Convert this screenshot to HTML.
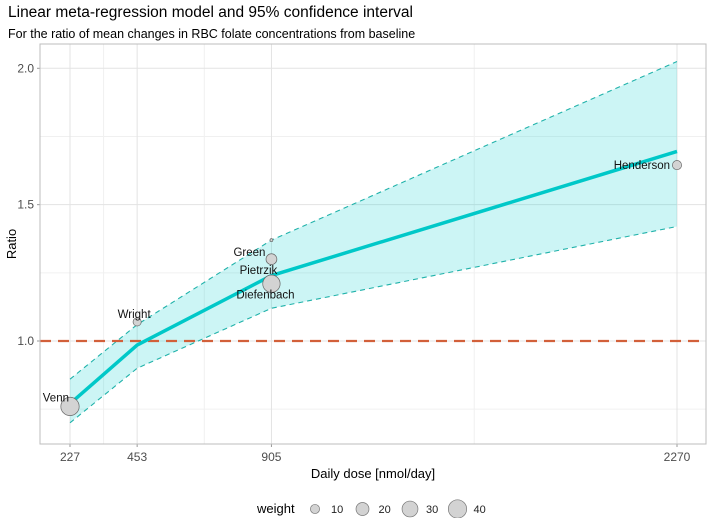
<!DOCTYPE html>
<html><head><meta charset="utf-8"><style>
body{margin:0;background:#fff;}
svg{display:block;font-family:"Liberation Sans",sans-serif;}
</style></head><body>
<svg id="c" width="709" height="518">
<text x="8" y="17" font-size="15.5" fill="#000">Linear meta-regression model and 95% confidence interval</text>
<text x="8" y="38" font-size="12.5" fill="#000">For the ratio of mean changes in RBC folate concentrations from baseline</text>
<g id="plot"></g>
</svg>
<script>
const doses=[227,453,905,2270];
const fit=[0.77,0.985,1.24,1.695];
const upper=[0.86,1.06,1.37,2.025];
const lower=[0.70,0.90,1.12,1.42];
const studyNames=["Venn","Wright","Green","Pietrzik","Diefenbach","Henderson"];
const studyDose=[227,453,905,905,905,2270];
const studyRatio=[0.76,1.07,1.37,1.30,1.21,1.645];
const studyWeight=[40,8,1,14,36,10];
const yTicks=[1.0,1.5,2.0];
const yLabels=["1.0","1.5","2.0"];
const legendWeights=[10,20,30,40];

const L=40,R=706,T=44,B=444;
const X=d=>70+(d-227)*(607/2043);
const Y=v=>341-(v-1)*272.7;
const rad=w=>Math.sqrt(w)*1.45;
const ns="http://www.w3.org/2000/svg";
const g=document.getElementById('plot');
function mk(t,a,p){const e=document.createElementNS(ns,t);for(const k in a)e.setAttribute(k,a[k]);(p||g).appendChild(e);return e;}
let e=mk('rect',{x:L,y:T,width:R-L,height:B-T,fill:'#fff'});


[0.75,1.25,1.75].forEach(v=>{mk('line',{x1:L,x2:R,y1:Y(v),y2:Y(v),stroke:'#f0f0f0','stroke-width':1});});
for(let i=0;i<doses.length-1;i++){const m=(doses[i]+doses[i+1])/2;mk('line',{x1:X(m),x2:X(m),y1:T,y2:B,stroke:'#f0f0f0','stroke-width':1});}
yTicks.forEach((v,i)=>{mk('line',{x1:L,x2:R,y1:Y(v),y2:Y(v),stroke:'#e3e3e3','stroke-width':1});
 const t=mk('text',{x:L-6,y:Y(v)+4,'font-size':12,fill:'#4d4d4d','text-anchor':'end'});t.textContent=yLabels[i];
 
 
 mk('line',{x1:L-3,x2:L,y1:Y(v),y2:Y(v),stroke:'#999'});});
doses.forEach(d=>{mk('line',{x1:X(d),x2:X(d),y1:T,y2:B,stroke:'#e3e3e3','stroke-width':1});
 mk('line',{x1:X(d),x2:X(d),y1:B,y2:B+3,stroke:'#999'});
 const t=mk('text',{x:X(d),y:B+17,'font-size':12,fill:'#4d4d4d','text-anchor':'middle'});t.textContent=d;
 
 });
let pts=doses.map((d,i)=>X(d)+','+Y(upper[i])).concat(doses.map((d,i)=>X(d)+','+Y(lower[i])).reverse());
e=mk('polygon',{points:pts.join(' '),fill:'#00cdcd','fill-opacity':0.2});


e=mk('polyline',{points:doses.map((d,i)=>X(d)+','+Y(upper[i])).join(' '),fill:'none',stroke:'#20b2aa','stroke-width':1.1,'stroke-dasharray':'5,4'});


e=mk('polyline',{points:doses.map((d,i)=>X(d)+','+Y(lower[i])).join(' '),fill:'none',stroke:'#20b2aa','stroke-width':1.1,'stroke-dasharray':'5,4'});


e=mk('line',{x1:L,x2:R,y1:Y(1),y2:Y(1),stroke:'#d2603a','stroke-width':2.2,'stroke-dasharray':'11,7'});


e=mk('polyline',{points:doses.map((d,i)=>X(d)+','+Y(fit[i])).join(' '),fill:'none',stroke:'#00c8c8','stroke-width':3.5,'stroke-linejoin':'round'});


const lblOff=[[-1,-5,'end'],[-3,-4,'middle'],[-22,16,'middle'],[-13,15,'middle'],[-6,15,'middle'],[-7,4,'end']];
studyNames.forEach((n,i)=>{
 const c=mk('circle',{cx:X(studyDose[i]),cy:Y(studyRatio[i]),r:rad(studyWeight[i]),fill:'#d3d3d3',stroke:'#666','stroke-width':0.7});
 
 
 const o=lblOff[i];
 const t=mk('text',{x:X(studyDose[i])+o[0],y:Y(studyRatio[i])+o[1],'font-size':11.5,fill:'#111','text-anchor':o[2]});t.textContent=n;
 
 
});
mk('rect',{x:L,y:T,width:R-L,height:B-T,fill:'none',stroke:'#bdbdbd','stroke-width':1});
let t=mk('text',{x:373,y:478,'font-size':13,fill:'#000','text-anchor':'middle'});t.textContent='Daily dose [nmol/day]';


t=mk('text',{x:0,y:0,'font-size':13,fill:'#000','text-anchor':'middle',transform:'translate(16,244) rotate(-90)'});t.textContent='Ratio';


t=mk('text',{x:257,y:513,'font-size':13,fill:'#000'});t.textContent='weight';


legendWeights.forEach((w,i)=>{
 const cx=315+i*47.5;
 const c=mk('circle',{cx:cx,cy:509,r:rad(w),fill:'#d3d3d3',stroke:'#777','stroke-width':0.7});
 
 
 const l=mk('text',{x:cx+16,y:513,'font-size':11,fill:'#222'});l.textContent=w;
 
 
});
</script>
</body></html>
